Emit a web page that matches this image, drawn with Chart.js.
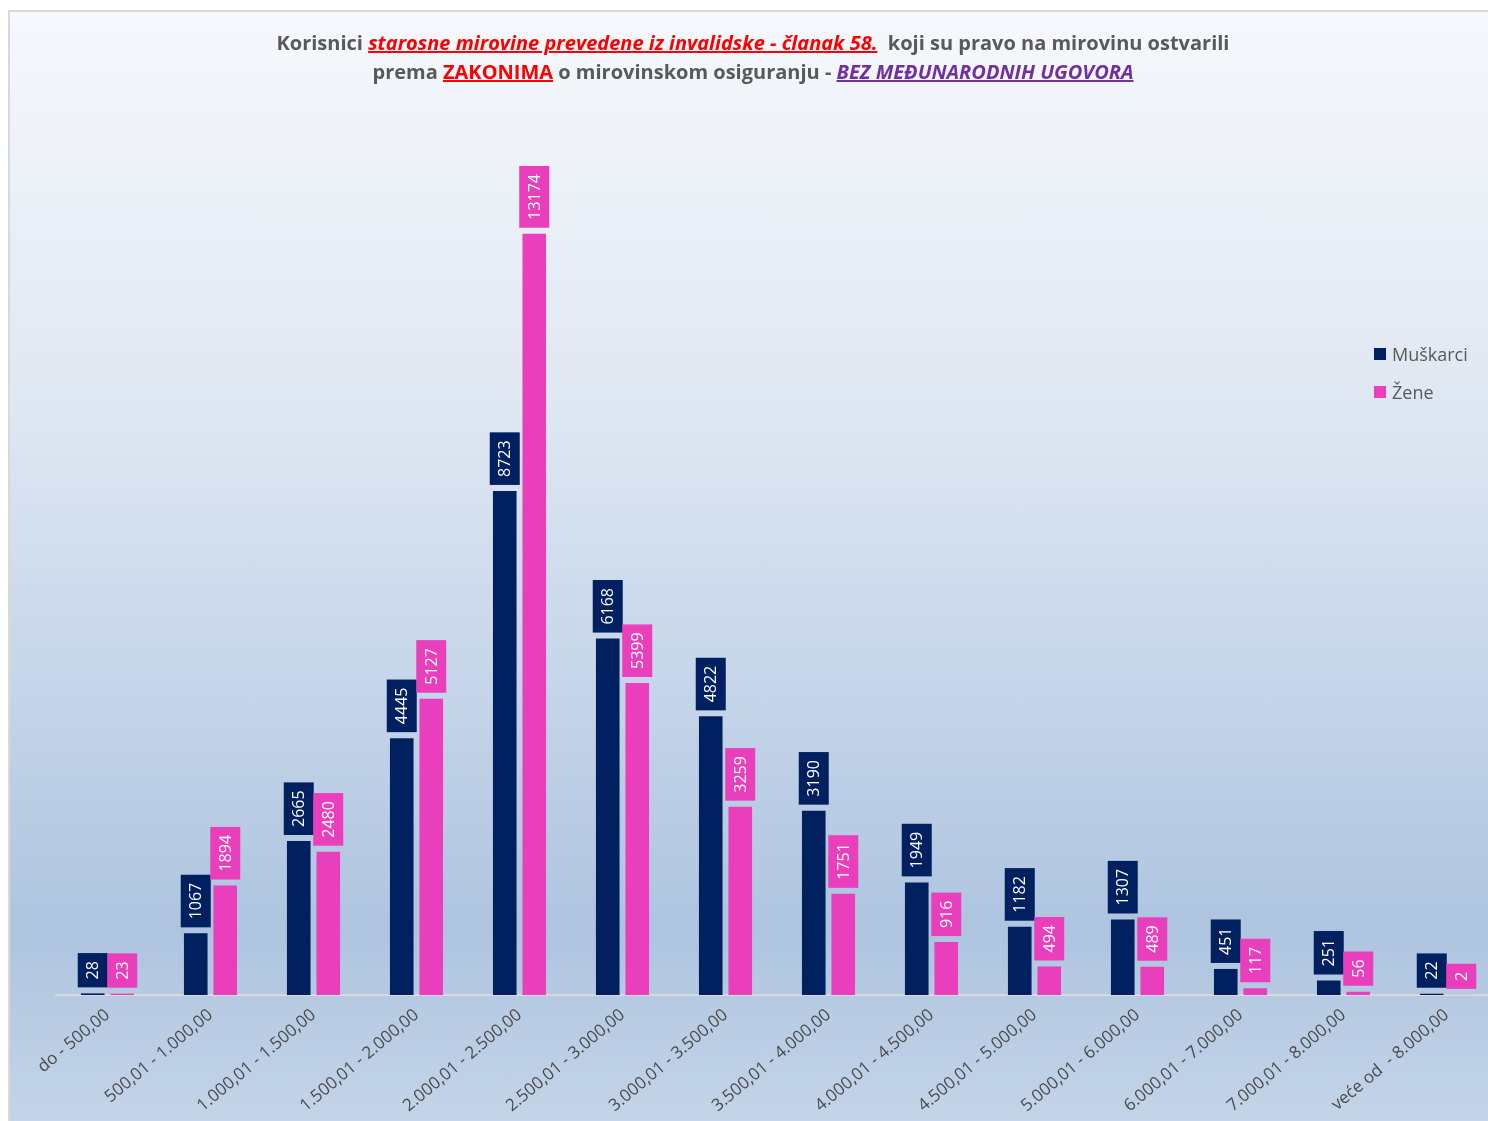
<!DOCTYPE html>
<html>
<head>
<meta charset="utf-8">
<script src="https://cdn.jsdelivr.net/npm/chart.js@4.4.1/dist/chart.umd.min.js"></script>
<style>
  html, body { margin:0; padding:0; width:1488px; height:1121px; overflow:hidden; background:#fff; }
  #bg { position:absolute; left:8px; top:10px; width:1500px; height:1120px;
        border-left:2px solid #d9d9d9; border-top:2px solid #d9d9d9;
        background:linear-gradient(to bottom, #f6f8fc 0%, #dfe7f2 35%, #c6d5e9 60%, #aec4df 82%, #c5d5e9 100%); }
  #chart { position:absolute; left:0; top:0; }
  #title { position:absolute; left:8px; top:28px; width:1490px; text-align:center;
           font-family:"Open Sans", sans-serif; font-weight:700; font-size:20px; line-height:29px; color:#595959; }
  #title .r { color:#ff0000; font-style:italic; text-decoration:underline; }
  #title .rz { color:#ff0000; text-decoration:underline; }
  #title .p { color:#7030a0; font-style:italic; text-decoration:underline; }
  #legend { position:absolute; left:1374px; top:335px; font-family:"Open Sans", sans-serif; font-size:18px; color:#595959; }
  #legend .item { height:38px; display:flex; align-items:center; }
  #legend .sw { width:12px; height:12px; margin-right:6px; }
</style>
</head>
<body>
<div id="bg"></div>
<canvas id="chart" width="1500" height="1121"></canvas>
<div id="title">Korisnici <span class="r">starosne mirovine prevedene iz invalidske - članak 58.</span>&nbsp; koji su pravo na mirovinu ostvarili<br>prema <span class="rz">ZAKONIMA</span> o mirovinskom osiguranju - <span class="p">BEZ MEĐUNARODNIH UGOVORA</span></div>
<div id="legend"></div>
<script>
const categories = ["do - 500,00", "500,01 - 1.000,00", "1.000,01 - 1.500,00", "1.500,01 - 2.000,00", "2.000,01 - 2.500,00", "2.500,01 - 3.000,00", "3.000,01 - 3.500,00", "3.500,01 - 4.000,00", "4.000,01 - 4.500,00", "4.500,01 - 5.000,00", "5.000,01 - 6.000,00", "6.000,01 - 7.000,00", "7.000,01 - 8.000,00", "veće od \u00a0- 8.000,00"];
const muskarci = [28, 1067, 2665, 4445, 8723, 6168, 4822, 3190, 1949, 1182, 1307, 451, 251, 22];
const zene = [23, 1894, 2480, 5127, 13174, 5399, 3259, 1751, 916, 494, 489, 117, 56, 2];
const seriesNames = ["Muškarci", "Žene"];
const seriesColors = ["#002060", "#e93fbc"];

const legendEl = document.getElementById('legend');
seriesNames.forEach((n, i) => {
  const d = document.createElement('div'); d.className = 'item';
  d.innerHTML = '<span class="sw" style="background:' + seriesColors[i] + '"></span>' + n;
  legendEl.appendChild(d);
});

const labelPlugin = {
  id: 'boxLabels',
  afterDatasetsDraw(chart) {
    const ctx = chart.ctx;
    ctx.save();
    ctx.font = '16px "Open Sans"';
    chart.data.datasets.forEach((ds, i) => {
      const meta = chart.getDatasetMeta(i);
      meta.data.forEach((bar, j) => {
        const txt = String(ds.data[j]);
        const w = ctx.measureText(txt).width;
        const h = w + 16;
        const bottom = bar.y - 6;
        ctx.fillStyle = ds.backgroundColor;
        ctx.fillRect(bar.x - 15, bottom - h, 30, h);
        ctx.save();
        ctx.translate(bar.x, bottom - h / 2);
        ctx.rotate(-Math.PI / 2);
        ctx.fillStyle = '#ffffff';
        ctx.textAlign = 'center';
        ctx.textBaseline = 'middle';
        ctx.fillText(txt, 0, 1);
        ctx.restore();
      });
    });
    ctx.restore();
  }
};

new Chart(document.getElementById('chart'), {
  type: 'bar',
  data: {
    labels: categories,
    datasets: [
      { label: seriesNames[0], data: muskarci, backgroundColor: seriesColors[0], categoryPercentage: 0.573, barPercentage: 0.8 },
      { label: seriesNames[1], data: zene, backgroundColor: seriesColors[1], categoryPercentage: 0.573, barPercentage: 0.8 }
    ]
  },
  options: {
    responsive: false,
    animation: false,
    layout: { padding: { top: 186, left: 56, right: 2, bottom: 0 } },
    plugins: { legend: { display: false }, title: { display: false }, tooltip: { enabled: false } },
    scales: {
      x: {
        grid: { display: false, drawTicks: false },
        border: { display: true, color: '#d9d9d9', width: 2 },
        ticks: { color: '#4a4a4a', font: { family: 'Open Sans', size: 17 }, minRotation: 40, maxRotation: 40, padding: 10, autoSkip: false },
        afterFit: (s) => { s.height = 126; }
      },
      y: { display: false, min: 0, max: 14000 }
    }
  },
  plugins: [labelPlugin]
});
</script>
</body>
</html>
